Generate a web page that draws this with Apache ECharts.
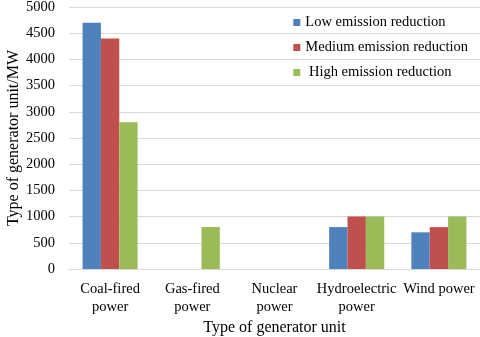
<!DOCTYPE html>
<html>
<head>
<meta charset="utf-8">
<script src="https://cdn.jsdelivr.net/npm/echarts@6/dist/echarts.min.js"></script>
<style>
  html, body { margin: 0; padding: 0; background: #fff; }
  #main { width: 480px; height: 337px; }
</style>
</head>
<body>
<div id="main"></div>
<script>
// generator types on the x axis
const categories = ['Coal-fired\npower', 'Gas-fired\npower', 'Nuclear\npower', 'Hydroelectric\npower', 'Wind power'];
const lowReduction = [4700, 0, 0, 800, 700];
const mediumReduction = [4400, 0, 0, 1000, 800];
const highReduction = [2800, 800, 0, 1000, 1000];

const font = 'Liberation Serif';
const chart = echarts.init(document.getElementById('main'));

chart.setOption({
  animation: false,
  grid: { left: 69, right: 0, top: 7, bottom: 68, outerBoundsMode: 'none' },
  legend: {
    orient: 'vertical',
    right: 7,
    top: 10,
    itemWidth: 7,
    itemHeight: 7,
    itemGap: 10,
    icon: 'rect',
    textStyle: { fontFamily: font, fontSize: 14.5, color: '#000' },
    data: ['Low emission reduction', 'Medium emission reduction', 'High emission reduction'],
    formatter: function (name) {
      return name.indexOf('High') === 0 ? ' ' + name : name;
    }
  },
  xAxis: {
    type: 'category',
    data: categories,
    name: 'Type of generator unit',
    nameLocation: 'middle',
    nameGap: 51,
    nameMoveOverlap: false,
    nameTextStyle: { fontFamily: font, fontSize: 16, color: '#000' },
    axisLine: { lineStyle: { color: '#d9d9d9' } },
    axisTick: { show: false },
    axisLabel: { fontFamily: font, fontSize: 14.5, color: '#000', margin: 11, lineHeight: 18, interval: 0 }
  },
  yAxis: {
    type: 'value',
    min: 0,
    max: 5000,
    interval: 500,
    name: 'Type of generator unit/MW',
    nameLocation: 'middle',
    nameGap: 47,
    nameMoveOverlap: false,
    nameTextStyle: { fontFamily: font, fontSize: 16, color: '#000' },
    axisLine: { show: false },
    axisTick: { show: false },
    axisLabel: { fontFamily: font, fontSize: 14.5, color: '#000', margin: 14, formatter: function (v) { return String(v); } },
    splitLine: { lineStyle: { color: '#d9d9d9' } }
  },
  series: [
    { name: 'Low emission reduction', type: 'bar', data: lowReduction, barGap: '0%', barCategoryGap: '33%', itemStyle: { color: '#4f81bd' } },
    { name: 'Medium emission reduction', type: 'bar', data: mediumReduction, itemStyle: { color: '#c0504d' } },
    { name: 'High emission reduction', type: 'bar', data: highReduction, itemStyle: { color: '#9bbb59' } }
  ]
});
</script>
</body>
</html>
